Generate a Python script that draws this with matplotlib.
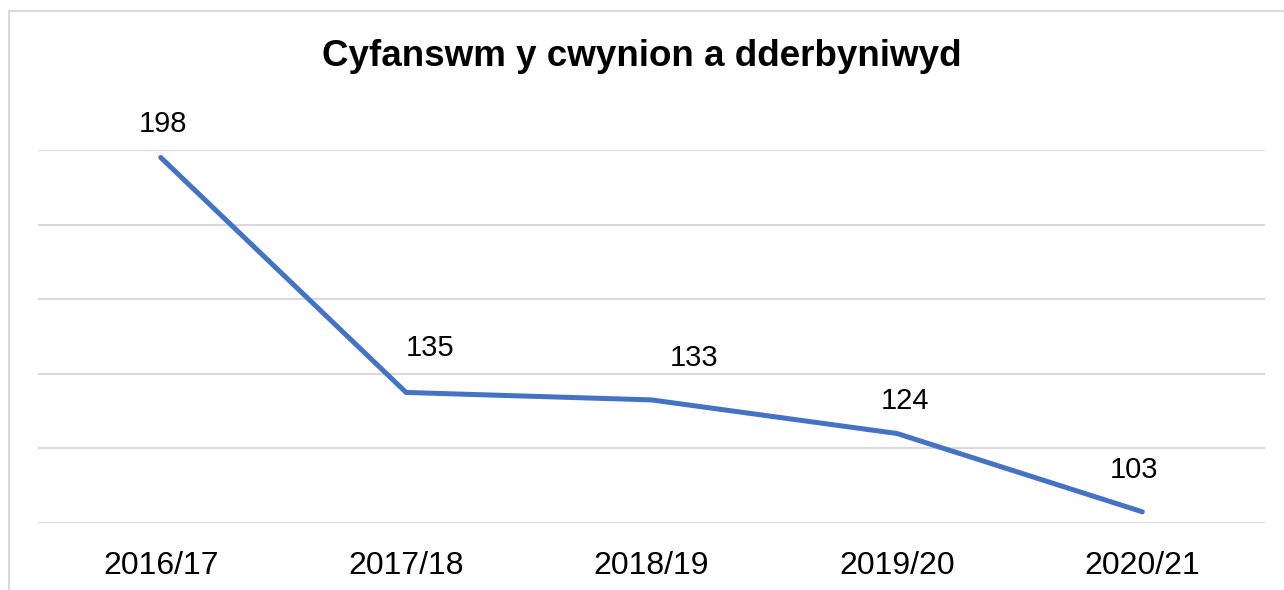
import matplotlib
matplotlib.use("Agg")
import matplotlib.pyplot as plt
from matplotlib.patches import Rectangle

# ── Data ───────────────────────────────────────────────────────────────────────

YEARS = ["2016/17", "2017/18", "2018/19", "2019/20", "2020/21"]
COMPLAINTS = [198, 135, 133, 124, 103]

TITLE = "Cyfanswm y cwynion a dderbyniwyd"

# label nudges in pixels (dx, dy) relative to each point
LABEL_OFFSETS = [(2, 33), (24, 44), (43, 42), (8, 32), (-8, 42)]

LINE_COLOR = "#4472C4"
GRID_COLOR = "#d9d9d9"

plt.rcParams["font.family"] = ["Liberation Sans", "DejaVu Sans"]

W, H = 1284, 590
fig = plt.figure(figsize=(W / 100, H / 100), dpi=100)

# chart frame (left/top edges visible, rest cut off)
fig.patches.append(Rectangle((9 / W, -0.1), 1.2, 1 - 11 / H + 0.1,
                             transform=fig.transFigure, fill=False,
                             edgecolor=GRID_COLOR, linewidth=1.5))

ax = fig.add_axes([38 / W, 1 - 523 / H, (1265 - 38) / W, (523 - 150) / H])

x = list(range(len(YEARS)))
ax.plot(x, COMPLAINTS, color=LINE_COLOR, linewidth=3.6, solid_capstyle="round")

for xi, v, (dx, dy) in zip(x, COMPLAINTS, LABEL_OFFSETS):
    ax.annotate(str(v), (xi, v), xytext=(dx, dy), textcoords="offset pixels",
                ha="center", va="center", fontsize=21, color="black")

ax.set_xlim(-0.5, len(YEARS) - 0.5)
ax.set_ylim(100, 200)
ax.set_yticks(range(100, 201, 20))
ax.yaxis.grid(True, color=GRID_COLOR, linewidth=1.5)
ax.set_axisbelow(True)
ax.tick_params(axis="y", left=False, labelleft=False)
ax.set_xticks(x)
ax.set_xticklabels(YEARS, fontsize=23)
ax.tick_params(axis="x", length=0, pad=20)
for s in ax.spines.values():
    s.set_visible(False)

fig.text(0.5, 1 - 57 / H, TITLE, ha="center", va="center",
         fontsize=26.5, fontweight="bold")

fig.savefig("out.png", dpi=100)
